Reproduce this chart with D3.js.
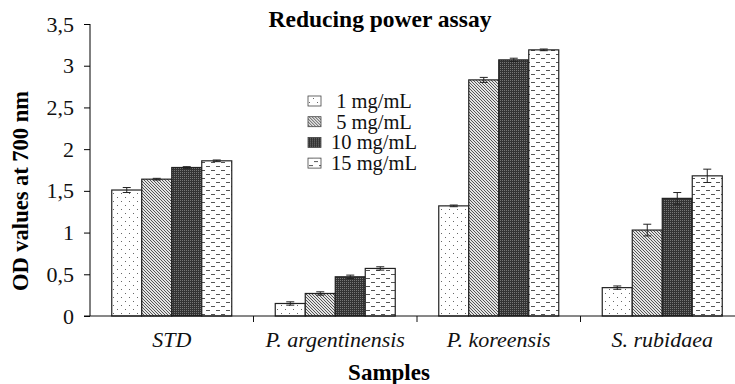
<!DOCTYPE html>
<html>
<head>
<meta charset="utf-8">
<script src="https://cdn.jsdelivr.net/npm/d3@7/dist/d3.min.js"></script>
<style>
  body { margin: 0; background: #fff; }
</style>
</head>
<body>
<svg></svg>
<script>
var samples = ["STD", "P. argentinensis", "P. koreensis", "S. rubidaea"];
var doses = ["1 mg/mL", "5 mg/mL", "10 mg/mL", "15 mg/mL"];
// OD values, one array per dose, in sample order
var od1 = [1.51, 0.15, 1.32, 0.34];
var od5 = [1.64, 0.27, 2.83, 1.03];
var od10 = [1.78, 0.47, 3.07, 1.41];
var od15 = [1.86, 0.57, 3.19, 1.68];
// error bars
var err1 = [0.03, 0.02, 0.01, 0.02];
var err5 = [0.01, 0.02, 0.03, 0.07];
var err10 = [0.01, 0.02, 0.02, 0.07];
var err15 = [0.01, 0.02, 0.01, 0.08];
var yTicks = [0, 0.5, 1, 1.5, 2, 2.5, 3, 3.5];

var svgWidth = 735, svgHeight = 384;
var svg = d3.select("svg").attr("width", svgWidth).attr("height", svgHeight)
  .attr("font-family", "Liberation Serif");

var vals = [od1, od5, od10, od15];
var errs = [err1, err5, err10, err15];
var rows = [];
samples.forEach(function (s, i) {
  doses.forEach(function (d, j) {
    rows.push({ sample: s, dose: d, v: vals[j][i], e: errs[j][i], k: j });
  });
});

// patterns
var defs = svg.append("defs");
var p0 = defs.append("pattern").attr("id", "pat0").attr("patternUnits", "userSpaceOnUse")
  .attr("width", 8).attr("height", 8);
p0.append("rect").attr("width", 8).attr("height", 8).attr("fill", "#fff");
p0.append("rect").attr("x", 1).attr("y", 1).attr("width", 1).attr("height", 1).attr("fill", "#666");
p0.append("rect").attr("x", 5).attr("y", 5).attr("width", 1).attr("height", 1).attr("fill", "#666");

var p1 = defs.append("pattern").attr("id", "pat1").attr("patternUnits", "userSpaceOnUse")
  .attr("width", 3).attr("height", 3);
p1.append("rect").attr("width", 3).attr("height", 3).attr("fill", "#e4e4e4");
p1.append("path").attr("d", "M-1,-1 L4,4 M-1,2 L1,4 M2,-1 L4,1").attr("stroke", "#555").attr("stroke-width", 1);

var p2 = defs.append("pattern").attr("id", "pat2").attr("patternUnits", "userSpaceOnUse")
  .attr("width", 2).attr("height", 2);
p2.append("rect").attr("width", 2).attr("height", 2).attr("fill", "#333");
p2.append("rect").attr("width", 1).attr("height", 1).attr("fill", "#777");

var p3 = defs.append("pattern").attr("id", "pat3").attr("patternUnits", "userSpaceOnUse")
  .attr("width", 10).attr("height", 8);
p3.append("rect").attr("width", 10).attr("height", 8).attr("fill", "#fff");
p3.append("rect").attr("x", 1).attr("y", 2).attr("width", 4).attr("height", 1).attr("fill", "#555");
p3.append("rect").attr("x", 6).attr("y", 6).attr("width", 4).attr("height", 1).attr("fill", "#555");

var x0 = d3.scaleBand().domain(samples).range([90, 744]).padding(0);
var x1 = d3.scaleBand().domain(doses).range([0, x0.bandwidth()]).paddingInner(0).paddingOuter(0.725);
var y = d3.scaleLinear().domain([0, 3.5]).range([316, 24]);

// y axis
var yAxis = svg.append("g").attr("transform", "translate(90,0)")
  .call(d3.axisLeft(y).tickValues(yTicks).tickSize(6).tickPadding(10)
    .tickFormat(function (d) { return String(d).replace(".", ","); }));
yAxis.attr("font-family", null).attr("font-size", null);
yAxis.select(".domain").attr("d", "M0,24 V316");
yAxis.selectAll("text").attr("font-size", "22px").attr("fill", "#111");

// bars
svg.append("g").selectAll("rect").data(rows).enter().append("rect")
  .attr("x", function (d) { return x0(d.sample) + x1(d.dose); })
  .attr("y", function (d) { return y(d.v); })
  .attr("width", x1.bandwidth())
  .attr("height", function (d) { return y(0) - y(d.v); })
  .attr("fill", function (d) { return "url(#pat" + d.k + ")"; })
  .attr("stroke", "#222").attr("stroke-width", 1.2);

// error bars
var eb = svg.append("g").attr("stroke", "#222").attr("stroke-width", 1);
rows.forEach(function (d) {
  var cx = x0(d.sample) + x1(d.dose) + x1.bandwidth() / 2;
  eb.append("path").attr("d", "M" + cx + "," + y(d.v + d.e) + " V" + y(d.v - d.e) +
    " M" + (cx - 4) + "," + y(d.v + d.e) + " H" + (cx + 4) +
    " M" + (cx - 4) + "," + y(d.v - d.e) + " H" + (cx + 4));
});

// x axis
var xAxis = svg.append("g").attr("transform", "translate(0,316)");
xAxis.append("line").attr("x1", 84).attr("x2", 735).attr("y1", 0).attr("y2", 0).attr("stroke", "#111");
xAxis.selectAll("line.tk").data(samples.slice(1)).enter().append("line")
  .attr("x1", function (d) { return x0(d); }).attr("x2", function (d) { return x0(d); })
  .attr("y1", 0).attr("y2", 6).attr("stroke", "#111");
xAxis.selectAll("text").data(samples).enter().append("text")
  .attr("x", function (d) { return x0(d) + x0.bandwidth() / 2; })
  .attr("y", 31).attr("text-anchor", "middle")
  .attr("font-size", "22px").attr("font-style", "italic").attr("fill", "#111")
  .text(function (d) { return d; });

// titles
svg.append("text").attr("x", 380).attr("y", 27).attr("text-anchor", "middle")
  .attr("font-size", "23.5px").attr("font-weight", "bold").text("Reducing power assay");
svg.append("text").attr("x", 389).attr("y", 380).attr("text-anchor", "middle")
  .attr("font-size", "23px").attr("font-weight", "bold").text("Samples");
svg.append("text").attr("transform", "translate(28,191) rotate(-90)").attr("text-anchor", "middle")
  .attr("font-size", "22.5px").attr("font-weight", "bold").text("OD values at 700 nm");

// legend
var lg = svg.append("g").selectAll("g").data(doses).enter().append("g")
  .attr("transform", function (d, i) { return "translate(308," + (101 + i * 20.7) + ")"; });
lg.append("rect").attr("y", -5).attr("width", 13).attr("height", 10)
  .attr("fill", function (d, i) { return "url(#pat" + i + ")"; }).attr("stroke", "#444").attr("stroke-width", 0.8);
lg.append("text").attr("x", 66).attr("y", 7).attr("text-anchor", "middle")
  .attr("font-size", "20.5px").attr("fill", "#111").text(function (d) { return d; });
</script>
</body>
</html>
